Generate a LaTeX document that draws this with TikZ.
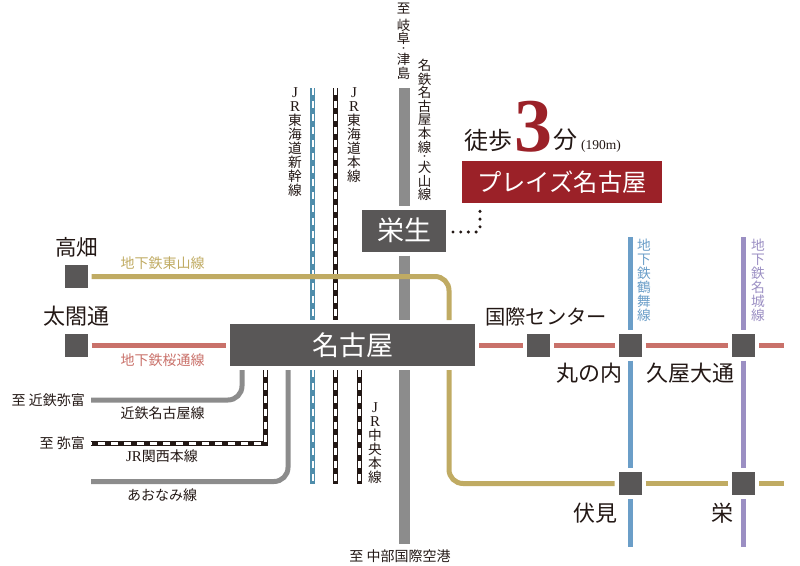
\documentclass[tikz,border=0pt]{standalone}
\usepackage{fontspec}
\setmainfont{Liberation Serif}
\newfontfamily\jp{Noto Sans CJK JP}
\definecolor{boxgrey}{HTML}{595757}
\definecolor{linegrey}{HTML}{8C8C8C}
\definecolor{placered}{HTML}{9B2128}
\definecolor{higashiyama}{HTML}{C0AB63}
\definecolor{sakura}{HTML}{C9716A}
\definecolor{tsurumai}{HTML}{6B9EC8}
\definecolor{meijo}{HTML}{9B8FC3}
\definecolor{shinkansen}{HTML}{4F8DAB}
\definecolor{inkdark}{HTML}{231815}
\tikzset{
    station-box/.style = {fill=boxgrey, inner sep=0pt, outer sep=4pt, minimum width=23pt, minimum height=23pt},
    major-box/.style = {fill=boxgrey, text=white, inner sep=0pt, outer sep=4pt, font=\jp\fontsize{27}{27}\selectfont},
    place-box/.style = {fill=placered, text=white, inner sep=0pt, font=\jp\fontsize{24.3}{24.3}\selectfont},
    station-name/.style = {text=inkdark, inner sep=0pt, font=\jp\fontsize{22}{22}\selectfont},
    line-name/.style = {text=inkdark, inner sep=0pt, font=\jp\fontsize{14}{14}\selectfont},
    tate-name/.style = {text=inkdark, inner sep=0pt, align=center, font=\jp\fontsize{13.7}{14}\selectfont},
    tate-tight/.style = {text=inkdark, inner sep=0pt, align=center, font=\jp\fontsize{13.5}{13.6}\selectfont},
    grey-line/.style = {draw=linegrey, line width=5pt},
    main-line/.style = {draw=linegrey, line width=11pt},
    metro-line/.style = {line width=5pt},
    jr-line/.style = {draw=inkdark, line width=5pt, postaction={draw=white, line width=3pt, dash pattern=on 7pt off 6pt}},
    shinkansen-line/.style = {draw=shinkansen, line width=5pt, postaction={draw=white, line width=2pt, dash pattern=on 7pt off 6pt}},
}
\newcommand{\latinjr}[1]{{\rmfamily\fontsize{15}{14}\selectfont #1}}
\newcommand{\tatedot}{{\fontsize{8}{8}\selectfont ・}}
\begin{document}
\begin{tikzpicture}[x=1pt,y=-1pt]
\useasboundingbox (0,0) rectangle (800,565);
% stations
\node [major-box, minimum width=245pt, minimum height=42pt] (nagoya) at (352.5,345) {名古屋};
\node [major-box, minimum width=84pt, minimum height=42pt] (sako) at (404,230.5) {栄生};
\node [station-box] (takabata) at (76,276.5) {};
\node [station-box] (taikodori) at (76,345) {};
\node [station-box] (kokusai) at (538.5,345) {};
\node [station-box] (marunouchi) at (630,345) {};
\node [station-box] (hisaya) at (743.5,345) {};
\node [station-box] (fushimi) at (630,483.5) {};
\node [station-box] (sakae) at (743.5,483.5) {};
\node [place-box, minimum width=200pt, minimum height=42pt] (place) at (562,182) {プレイズ名古屋};
% free ends
\coordinate (gifu) at (404,88);
\coordinate (airport) at (404,544);
\coordinate (sakuraend) at (784,345);
\coordinate (gold-end) at (784,483.5);
\coordinate (tsuru-top) at (630,237);
\coordinate (tsuru-bottom) at (630,547);
\coordinate (meijo-top) at (743.5,237);
\coordinate (meijo-bottom) at (743.5,547);
\coordinate (shin-top) at (312.5,88);
\coordinate (shin-bottom) at (312.5,484);
\coordinate (tokaido-top) at (335.5,88);
\coordinate (tokaido-bottom) at (335.5,484);
\coordinate (chuo-bottom) at (359.5,484);
\coordinate (kintetsu-end) at (91,400);
\coordinate (kansai-end) at (91,443.5);
\coordinate (aonami-end) at (91,481.5);
\coordinate (gold-x) at (449,300);
% lines
\draw [main-line] (gifu) -- (sako);
\draw [main-line] (sako) -- (sako |- nagoya.north);
\draw [main-line] (nagoya.south -| gifu) -- (airport);
\draw [shinkansen-line] (shin-top) -- (shin-top |- nagoya.north);
\draw [shinkansen-line] (shin-top |- nagoya.south) -- (shin-bottom);
\draw [jr-line] (tokaido-top) -- (tokaido-top |- nagoya.north);
\draw [jr-line] (tokaido-top |- nagoya.south) -- (tokaido-bottom);
\draw [jr-line] (chuo-bottom |- nagoya.south) -- (chuo-bottom);
\draw [metro-line, draw=sakura] (taikodori) -- (nagoya);
\draw [metro-line, draw=sakura] (nagoya) -- (kokusai);
\draw [metro-line, draw=sakura] (kokusai) -- (marunouchi);
\draw [metro-line, draw=sakura] (marunouchi) -- (hisaya);
\draw [metro-line, draw=sakura] (hisaya) -- (sakuraend);
\draw [metro-line, draw=higashiyama, rounded corners=14pt] (takabata) -- (gold-x |- takabata) -- (gold-x |- nagoya.north);
\draw [metro-line, draw=higashiyama, rounded corners=14pt] (gold-x |- nagoya.south) -- (gold-x |- fushimi) -- (fushimi);
\draw [metro-line, draw=higashiyama] (fushimi) -- (sakae);
\draw [metro-line, draw=higashiyama] (sakae) -- (gold-end);
\draw [metro-line, draw=tsurumai] (tsuru-top) -- (marunouchi);
\draw [metro-line, draw=tsurumai] (marunouchi) -- (fushimi);
\draw [metro-line, draw=tsurumai] (fushimi) -- (tsuru-bottom);
\draw [metro-line, draw=meijo] (meijo-top) -- (hisaya);
\draw [metro-line, draw=meijo] (hisaya) -- (sakae);
\draw [metro-line, draw=meijo] (sakae) -- (meijo-bottom);
\draw [grey-line, rounded corners=14pt] (nagoya.south -| 242,0) -- (242,400) -- (kintetsu-end);
\draw [jr-line] (nagoya.south -| 265.5,0) -- (265.5,443.5) -- (kansai-end);
\draw [grey-line, rounded corners=14pt] (nagoya.south -| 288,0) -- (288,481.5) -- (aonami-end);
% walking route
\coordinate (walk-start) at (453,232);
\coordinate (walk-end) at (480,208);
\draw [inkdark, line width=3.4pt, line cap=round, dash pattern=on 0pt off 7.7pt, rounded corners=3pt] (walk-start) -| (walk-end);
% station names
\node [station-name, font=\jp\fontsize{21.5}{21.5}\selectfont] (takabata-name) at (76.5,247) {高畑};
\node [station-name] (taikodori-name) at (76.5,316) {太閤通};
\node [station-name, font=\jp\fontsize{20.3}{20.3}\selectfont] (kokusai-name) at (546,317) {国際センター};
\node [station-name] (marunouchi-name) at (589,373) {丸の内};
\node [station-name] (hisaya-name) at (690,373) {久屋大通};
\node [station-name] (fushimi-name) at (595,513) {伏見};
\node [station-name] (sakae-name) at (722.5,513) {栄};
% line names
\node [line-name, text=higashiyama] (higashiyama-name) at (162.5,263) {地下鉄東山線};
\node [line-name, text=sakura] (sakura-name) at (162.5,360) {地下鉄桜通線};
\node [line-name] (kintetsu-name) at (162.5,413) {近鉄名古屋線};
\node [line-name] (kansai-name) at (162,456) {\latinjr{JR}関西本線};
\node [line-name] (aonami-name) at (162,495) {あおなみ線};
\node [line-name, anchor=east] (kintetsu-to) at (85,400) {至 近鉄弥富};
\node [line-name, anchor=east] (yatomi-to) at (85,443) {至 弥富};
\node [line-name] (airport-to) at (400,556) {至 中部国際空港};
% vertical names
\node [tate-tight, anchor=north] (gifu-to) at (403.5,3) {至\\[3pt]岐\\阜\\[-5.8pt]\tatedot\\[-0.9pt]津\\島};
\node [tate-tight, anchor=north] (meitetsu-name) at (424.5,59) {名\\鉄\\名\\古\\屋\\本\\線\\[-5.8pt]\tatedot\\[-0.9pt]犬\\山\\線};
\node [tate-name, anchor=north] (shinkansen-name) at (295,87) {\latinjr{J}\\\latinjr{R}\\東\\海\\道\\新\\幹\\線};
\node [tate-name, anchor=north] (tokaido-name) at (354,87) {\latinjr{J}\\\latinjr{R}\\東\\海\\道\\本\\線};
\node [tate-name, anchor=north] (chuo-name) at (375,402) {\latinjr{J}\\\latinjr{R}\\中\\央\\本\\線};
\node [tate-name, anchor=north, text=tsurumai] (tsurumai-name) at (644,239) {地\\下\\鉄\\鶴\\舞\\線};
\node [tate-name, anchor=north, text=meijo] (meijo-name) at (758,239) {地\\下\\鉄\\名\\城\\線};
% walking time
\node [station-name, font=\jp\fontsize{24}{24}\selectfont] (walk-name) at (488,140) {徒歩};
\node [inner sep=0pt, text=placered, font=\fontsize{76}{76}\bfseries\selectfont] (walk-time) at (533,127) {3};
\node [station-name, font=\jp\fontsize{24}{24}\selectfont] (walk-unit) at (565,140) {分};
\node [text=inkdark, inner sep=0pt, font=\fontsize{13.5}{13.5}\selectfont] (walk-metre) at (601,146) {(190m)};
\end{tikzpicture}
\end{document}
